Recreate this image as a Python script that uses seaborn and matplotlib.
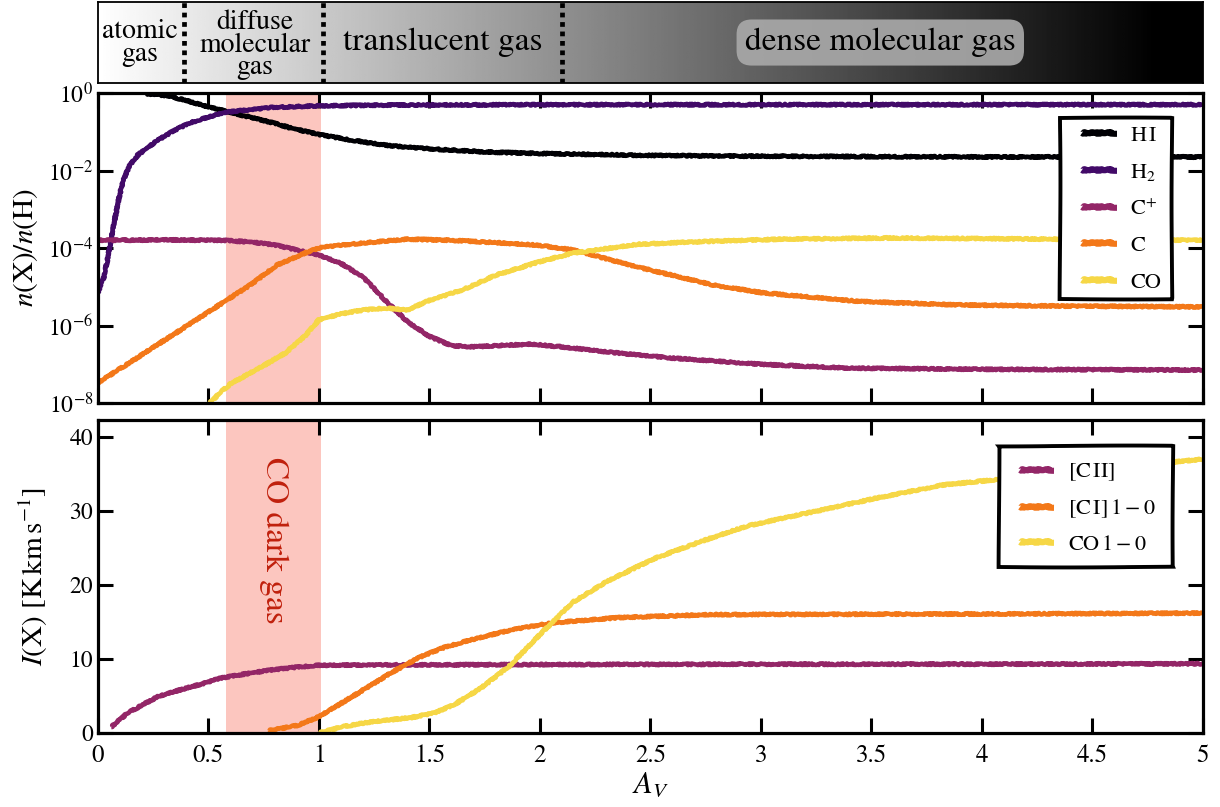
import numpy as np
import pandas as pd
import matplotlib
matplotlib.use("Agg")
import matplotlib.pyplot as plt
import seaborn as sns
from matplotlib.ticker import FuncFormatter, FixedLocator, NullLocator
from matplotlib.patches import Rectangle

# ---------------- abundances, log10 n(X)/n(H) versus A_V ----------------
av_hi = [0.22, 0.3, 0.38, 0.5, 0.65, 0.8, 0.87, 1.0, 1.15, 1.32, 1.5, 1.75, 2.0, 2.5, 3.0, 4.0, 5.0]
lg_hi = [-0.02, -0.06, -0.16, -0.36, -0.57, -0.78, -0.9, -1.07, -1.22, -1.36, -1.44, -1.52, -1.56, -1.61, -1.63, -1.65, -1.65]

av_h2 = [0.0, 0.03, 0.055, 0.075, 0.095, 0.115, 0.14, 0.18, 0.27, 0.35, 0.42, 0.57, 0.79, 1.0, 1.3, 2.0, 3.0, 5.0]
lg_h2 = [-5.15, -4.7, -3.9, -3.3, -2.7, -2.25, -1.9, -1.6, -1.22, -0.95, -0.76, -0.5, -0.37, -0.33, -0.31, -0.30, -0.30, -0.30]

av_cp = [0.0, 0.3, 0.57, 0.7, 0.8, 0.9, 1.0, 1.1, 1.2, 1.3, 1.4, 1.5, 1.6, 1.7, 1.8, 1.96, 2.1, 2.3, 2.6, 3.0, 3.4, 4.0, 5.0]
lg_cp = [-3.8, -3.79, -3.8, -3.85, -3.92, -4.05, -4.18, -4.4, -4.75, -5.35, -5.9, -6.28, -6.52, -6.55, -6.52, -6.48, -6.55, -6.68, -6.84, -7.0, -7.1, -7.13, -7.15]

av_c = [0.0, 0.35, 0.69, 0.81, 0.95, 1.01, 1.2, 1.4, 1.6, 1.8, 2.0, 2.15, 2.45, 2.78, 3.0, 3.45, 3.9, 4.4, 5.0]
lg_c = [-7.48, -6.2, -4.95, -4.44, -4.1, -3.98, -3.87, -3.77, -3.8, -3.86, -3.93, -4.05, -4.5, -4.95, -5.15, -5.38, -5.47, -5.5, -5.52]

av_co = [0.48, 0.55, 0.6, 0.73, 0.85, 0.94, 1.0, 1.1, 1.2, 1.3, 1.4, 1.5, 1.65, 1.8, 2.0, 2.15, 2.45, 2.8, 3.1, 3.6, 4.3, 5.0]
lg_co = [-8.15, -7.75, -7.5, -7.1, -6.7, -6.25, -5.85, -5.7, -5.6, -5.55, -5.6, -5.35, -5.08, -4.7, -4.35, -4.13, -3.9, -3.82, -3.77, -3.74, -3.77, -3.8]

# ---------------- line intensities, K km/s versus A_V ----------------
av_cii = [0.06, 0.13, 0.2, 0.27, 0.38, 0.49, 0.55, 0.65, 0.78, 0.9, 1.0, 1.3, 2.0, 3.0, 4.0, 5.0]
i_cii = [0.8, 2.6, 3.8, 4.9, 5.9, 6.8, 7.4, 7.9, 8.5, 8.9, 9.15, 9.2, 9.25, 9.3, 9.3, 9.35]

av_ci = [0.77, 0.9, 1.0, 1.1, 1.21, 1.33, 1.46, 1.57, 1.69, 1.88, 2.06, 2.36, 2.77, 3.4, 4.2, 5.0]
i_ci = [0.3, 1.0, 2.2, 4.0, 6.0, 8.2, 10.3, 11.6, 12.6, 14.0, 14.9, 15.6, 16.0, 16.05, 16.1, 16.2]

av_co10 = [1.0, 1.1, 1.21, 1.42, 1.52, 1.61, 1.73, 1.86, 2.0, 2.15, 2.31, 2.52, 2.73, 2.94, 3.19, 3.5, 3.82, 4.05, 4.5, 5.0]
i_co10 = [0.0, 0.8, 1.4, 2.1, 2.7, 3.8, 6.0, 9.0, 13.3, 17.7, 20.6, 23.6, 25.9, 28.0, 29.6, 31.6, 33.5, 34.2, 35.6, 37.0]

species = [r"H$\,$I", r"H$_2$", r"C$^{+}$", "C", "CO"]
lines_em = [r"[C$\,$II]", r"[C$\,$I]$\,1-0$", r"CO$\,1-0$"]

phase_names = ["atomic\ngas", "diffuse\nmolecular\ngas", "translucent gas", "dense molecular gas"]
phase_bounds = [0.39, 1.02, 2.1]
dark_gas = (0.58, 1.01)

# ---------------- tidy tables ----------------
abund = pd.concat([
    pd.DataFrame({"AV": a, "abund": 10.0 ** np.asarray(v), "species": s})
    for a, v, s in zip([av_hi, av_h2, av_cp, av_c, av_co],
                       [lg_hi, lg_h2, lg_cp, lg_c, lg_co], species)
], ignore_index=True)
inten = pd.concat([
    pd.DataFrame({"AV": a, "I": v, "line": s})
    for a, v, s in zip([av_cii, av_ci, av_co10],
                       [i_cii, i_ci, i_co10], lines_em)
], ignore_index=True)

cols = [plt.cm.inferno(t) for t in (0.0, 0.2, 0.4, 0.7, 0.9)]
pal_ab = dict(zip(species, cols))
pal_in = dict(zip(lines_em, cols[2:]))

# ---------------- style ----------------
sns.set_theme(style="ticks")
plt.rcParams.update({
    "font.family": ["STIXGeneral", "DejaVu Serif"],
    "mathtext.fontset": "stix",
    "axes.linewidth": 2.3,
    "axes.edgecolor": "black",
    "xtick.direction": "in", "ytick.direction": "in",
    "xtick.top": True, "ytick.right": True,
    "xtick.major.size": 11, "ytick.major.size": 11,
    "xtick.major.width": 2.2, "ytick.major.width": 2.2,
    "xtick.labelsize": 18, "ytick.labelsize": 17,
    "xtick.color": "black", "ytick.color": "black",
    "text.color": "black", "axes.labelcolor": "black",
})

fig = plt.figure(figsize=(12.2, 8.07), dpi=100)
ax_bar = fig.add_axes([0.0803, 0.8971, 0.9057, 0.1004])
ax_ab = fig.add_axes([0.0803, 0.5006, 0.9057, 0.3841])
ax_in = fig.add_axes([0.0803, 0.0917, 0.9057, 0.3879])

# ---- phase bar ----
grad = np.clip(np.linspace(0, 5, 600) / 4.8, 0, 1)[None, :]
ax_bar.imshow(grad, cmap="gray_r", vmin=0, vmax=1, aspect="auto",
              extent=(0, 5, 0, 1), interpolation="bilinear")
ax_bar.set_xlim(0, 5)
ax_bar.set_ylim(0, 1)
for b in phase_bounds:
    ax_bar.axvline(b, color="black", lw=3.4, ls=(0, (1.0, 1.0)))
ax_bar.set_xticks([]); ax_bar.set_yticks([])
for sp in ax_bar.spines.values():
    sp.set_linewidth(1.3)
ax_bar.text(0.19, 0.5, phase_names[0], ha="center", va="center", fontsize=20, linespacing=0.88)
ax_bar.text(0.71, 0.47, phase_names[1], ha="center", va="center", fontsize=20, linespacing=0.88)
ax_bar.text(1.56, 0.5, phase_names[2], ha="center", va="center", fontsize=24)
ax_bar.text(3.54, 0.5, phase_names[3], ha="center", va="center", fontsize=24,
            bbox=dict(boxstyle="round,pad=0.25,rounding_size=0.45", fc="#a8a8a8", ec="none", alpha=0.92))

# ---- abundances ----
ax_ab.axvspan(*dark_gas, color="#fcc6bf", lw=0, zorder=0)
sns.lineplot(data=abund, x="AV", y="abund", hue="species", hue_order=species,
             palette=pal_ab, estimator=None, lw=3.3, legend=False, ax=ax_ab)
ax_ab.set_yscale("log")
ax_ab.set_xlim(0, 5)
ax_ab.set_ylim(1e-8, 1)
ax_ab.yaxis.set_major_locator(FixedLocator([1e-8, 1e-6, 1e-4, 1e-2, 1]))
ax_ab.yaxis.set_minor_locator(NullLocator())
ax_ab.set_xticks(np.arange(0, 5.01, 0.5))
ax_ab.tick_params(axis="x", labelbottom=False)
ax_ab.set_xlabel("")
ax_ab.set_ylabel(r"$n(\mathrm{X})/n(\mathrm{H})$", fontsize=21, labelpad=6)

# ---- intensities ----
ax_in.axvspan(*dark_gas, color="#fcc6bf", lw=0, zorder=0)
sns.lineplot(data=inten, x="AV", y="I", hue="line", hue_order=lines_em,
             palette=pal_in, estimator=None, lw=3.3, legend=False, ax=ax_in)
ax_in.set_xlim(0, 5)
ax_in.set_ylim(0, 42.3)
ax_in.set_yticks([0, 10, 20, 30, 40])
ax_in.set_xticks(np.arange(0, 5.01, 0.5))
ax_in.xaxis.set_major_formatter(FuncFormatter(lambda v, p: f"{v:g}"))
ax_in.tick_params(axis="x", pad=8)
ax_in.set_xlabel(r"$A_V$", fontsize=22, labelpad=2)
ax_in.set_ylabel(r"$I(\mathrm{X})$ [K$\,$km$\,$s$^{-1}$]", fontsize=21, labelpad=14)
ax_in.text(0.795, 26.0, "CO dark gas", rotation=270, ha="center", va="center",
           fontsize=24, color="#c0200c")

# pencil-like texture on the curves
for ax in (ax_ab, ax_in):
    for ln in ax.lines:
        ln.set_sketch_params(scale=0.8, length=1.0, randomness=3)
        ln.set_solid_capstyle("butt")


def boxed_legend(ax, labels, anchor, spacing, pads):
    leg = ax.legend(ax.lines, labels, loc="upper right", bbox_to_anchor=anchor,
                    fontsize=16, frameon=False, borderaxespad=0, borderpad=0,
                    handlelength=1.55, labelspacing=spacing, handletextpad=0.6)
    leg.set_zorder(6)
    for h in leg.legend_handles:
        h.set_linewidth(4.4)
        h.set_sketch_params(scale=0.8, length=1.0, randomness=3)
    return leg, pads


legs = [boxed_legend(ax_ab, species, (0.962, 0.895), 0.72, (22, 11, 8, 6)),
        boxed_legend(ax_in, lines_em, (0.957, 0.866), 0.64, (21, 18, 16, 12))]

# frame each legend with a heavy, slightly hand-drawn box
fig.canvas.draw()
for (leg, (pl, pr, pt, pb)), ax in zip(legs, (ax_ab, ax_in)):
    bb = leg.get_window_extent()
    x0, y0 = ax.transAxes.inverted().transform((bb.x0 - pl, bb.y0 - pb))
    x1, y1 = ax.transAxes.inverted().transform((bb.x1 + pr, bb.y1 + pt))
    rect = Rectangle((x0, y0), x1 - x0, y1 - y0, transform=ax.transAxes,
                     facecolor="white", edgecolor="black", lw=2.8,
                     zorder=5.5, clip_on=False)
    rect.set_sketch_params(scale=0.45, length=300, randomness=2)
    ax.add_patch(rect)

fig.savefig("out.png", dpi=100)
